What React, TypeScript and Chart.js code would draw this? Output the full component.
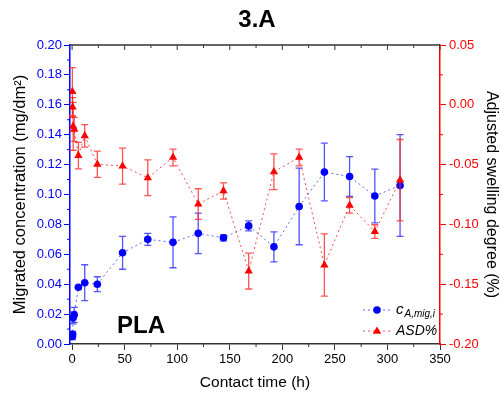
import React, { useEffect, useRef } from "react";
import { Chart, registerables } from "chart.js";

Chart.register(...registerables);

const times = [0.25, 0.5, 1, 2, 6, 12, 24, 48, 72, 96, 120, 144, 168, 192, 216, 240, 264, 288, 312];
const conc = [0.005, 0.0065, 0.0175, 0.0195, 0.038, 0.041, 0.040, 0.061, 0.070, 0.068, 0.074, 0.071, 0.079, 0.065, 0.092, 0.115, 0.112, 0.099, 0.106];
const concErr = [0.002, 0.002, 0.004, 0.005, 0.001, 0.012, 0.005, 0.011, 0.004, 0.017, 0.0135, 0.002, 0.0033, 0.010, 0.0256, 0.0193, 0.0133, 0.018, 0.034];
const asd = [0.011, -0.002, -0.018, -0.0205, -0.0425, -0.026, -0.0497, -0.0513, -0.061, -0.044, -0.083, -0.072, -0.139, -0.056, -0.044, -0.134, -0.084, -0.106, -0.063];
const asdErr = [0.02, 0.008, 0.02, 0.01, 0.011, 0.0094, 0.011, 0.015, 0.015, 0.007, 0.0128, 0.0068, 0.015, 0.015, 0.007, 0.026, 0.0065, 0.0057, 0.034];

const xTicks = [0, 50, 100, 150, 200, 250, 300, 350];
const xMinor = [25, 75, 125, 175, 225, 275, 325];
const yLeftTicks = [0, 0.02, 0.04, 0.06, 0.08, 0.1, 0.12, 0.14, 0.16, 0.18, 0.2];
const yLeftMinor = [0.01, 0.03, 0.05, 0.07, 0.09, 0.11, 0.13, 0.15, 0.17, 0.19];
const yRightTicks = [-0.2, -0.15, -0.1, -0.05, 0, 0.05];
const yRightMinor = [-0.175, -0.125, -0.075, -0.025, 0.025];

const FONT = '"Liberation Sans", Arial, sans-serif';
const BLUE = "#0000ff";
const RED = "#ff0000";
const AXIS = "#333333";

const errorBars = {
  id: "errorBars",
  beforeDatasetDraw(chart: any, args: any) {
    const ds = chart.data.datasets[args.index];
    const errs: number[] = ds.errors;
    if (!errs) return;
    const yScale = chart.scales[ds.yAxisID];
    const ctx = chart.ctx;
    ctx.save();
    ctx.strokeStyle = ds.errColor;
    ctx.lineWidth = 1.3;
    args.meta.data.forEach((pt: any, i: number) => {
      const v = ds.data[i].y;
      const e = errs[i];
      const yt = yScale.getPixelForValue(v + e);
      const yb = yScale.getPixelForValue(v - e);
      const x = pt.x;
      ctx.beginPath();
      ctx.moveTo(x, yt);
      ctx.lineTo(x, yb);
      ctx.moveTo(x - 3.5, yt);
      ctx.lineTo(x + 3.5, yt);
      ctx.moveTo(x - 3.5, yb);
      ctx.lineTo(x + 3.5, yb);
      ctx.stroke();
    });
    ctx.restore();
  },
};

const decor = {
  id: "decor",
  afterDraw(chart: any) {
    const ctx = chart.ctx;
    const { left, right, top, bottom } = chart.chartArea;
    const xs = chart.scales.x;
    const yl = chart.scales.y;
    const yr = chart.scales.y2;
    ctx.save();
    // top border
    ctx.strokeStyle = AXIS;
    ctx.lineWidth = 1.5;
    ctx.beginPath();
    ctx.moveTo(left, top);
    ctx.lineTo(right, top);
    ctx.stroke();
    ctx.lineWidth = 1;
    ctx.beginPath();
    xTicks.forEach((v) => {
      const x = xs.getPixelForValue(v);
      ctx.moveTo(x, top);
      ctx.lineTo(x, top + 5);
    });
    xMinor.forEach((v) => {
      const x = xs.getPixelForValue(v);
      ctx.moveTo(x, top);
      ctx.lineTo(x, top + 3);
      ctx.moveTo(x, bottom);
      ctx.lineTo(x, bottom + 3);
    });
    ctx.stroke();
    ctx.strokeStyle = BLUE;
    ctx.beginPath();
    yLeftMinor.forEach((v) => {
      const y = yl.getPixelForValue(v);
      ctx.moveTo(left, y);
      ctx.lineTo(left - 3, y);
    });
    ctx.stroke();
    ctx.strokeStyle = RED;
    ctx.beginPath();
    yRightMinor.forEach((v) => {
      const y = yr.getPixelForValue(v);
      ctx.moveTo(right, y);
      ctx.lineTo(right + 3, y);
    });
    ctx.stroke();

    // title
    ctx.fillStyle = "#000";
    ctx.font = `bold 24px ${FONT}`;
    ctx.textAlign = "center";
    ctx.textBaseline = "alphabetic";
    ctx.fillText("3.A", 257, 27);

    // PLA label
    ctx.font = `bold 24px ${FONT}`;
    ctx.textAlign = "left";
    ctx.fillText("PLA", 117, 333);

    // legend
    const lx0 = 363, lx1 = 391, mx = 377;
    const ly1 = 310, ly2 = 331;
    ctx.lineWidth = 1;
    ctx.setLineDash([2, 3]);
    ctx.strokeStyle = "rgba(0,0,255,0.6)";
    ctx.beginPath();
    ctx.moveTo(lx0, ly1);
    ctx.lineTo(lx1, ly1);
    ctx.stroke();
    ctx.strokeStyle = "rgba(255,0,0,0.7)";
    ctx.beginPath();
    ctx.moveTo(lx0, ly2);
    ctx.lineTo(lx1, ly2);
    ctx.stroke();
    ctx.setLineDash([]);
    ctx.fillStyle = BLUE;
    ctx.beginPath();
    ctx.arc(mx, ly1, 3.8, 0, Math.PI * 2);
    ctx.fill();
    ctx.fillStyle = RED;
    ctx.beginPath();
    const r = 4.5;
    ctx.moveTo(mx, ly2 - r);
    ctx.lineTo(mx + r * 0.95, ly2 + r * 0.6);
    ctx.lineTo(mx - r * 0.95, ly2 + r * 0.6);
    ctx.closePath();
    ctx.fill();

    ctx.fillStyle = "#000";
    ctx.textBaseline = "middle";
    ctx.font = `italic 15px ${FONT}`;
    ctx.fillText("c", 396, ly1);
    const cw = ctx.measureText("c").width;
    ctx.font = `italic 10px ${FONT}`;
    ctx.fillText("A,mig,i", 396 + cw + 1, ly1 + 4);
    ctx.font = `italic 14px ${FONT}`;
    ctx.fillText("ASD%", 396, ly2);
    ctx.restore();
  },
};

export default function App() {
  const ref = useRef<HTMLCanvasElement>(null);
  useEffect(() => {
    document.body.style.margin = "0";
    const blueData = times.map((t, i) => ({ x: t, y: conc[i] }));
    const redData = times.map((t, i) => ({ x: t, y: asd[i] }));
    const chart = new Chart(ref.current as HTMLCanvasElement, {
      type: "line",
      data: {
        datasets: [
          {
            label: "cA,mig,i",
            data: blueData,
            yAxisID: "y",
            borderColor: "rgba(0,0,255,0.6)",
            borderWidth: 1,
            borderDash: [2, 3],
            pointStyle: "circle",
            pointRadius: 3.8,
            pointBackgroundColor: BLUE,
            pointBorderColor: BLUE,
            pointBorderWidth: 0,
            order: 2,
            errors: concErr,
            errColor: "rgba(40,40,255,0.8)",
          } as any,
          {
            label: "ASD%",
            data: redData,
            yAxisID: "y2",
            borderColor: "rgba(255,0,0,0.7)",
            borderWidth: 1,
            borderDash: [2, 3],
            pointStyle: "triangle",
            pointRadius: 4.8,
            pointBackgroundColor: RED,
            pointBorderColor: RED,
            pointBorderWidth: 0,
            order: 1,
            errors: asdErr,
            errColor: "rgba(255,40,40,0.8)",
          } as any,
        ],
      },
      options: {
        responsive: false,
        animation: false,
        layout: { padding: { top: 45, left: 0, right: 0, bottom: 0 } },
        plugins: { legend: { display: false }, tooltip: { enabled: false }, title: { display: false } },
        scales: {
          x: {
            type: "linear",
            min: -2,
            max: 350,
            afterFit: (s: any) => { s.height = 57; },
            afterBuildTicks: (s: any) => { s.ticks = xTicks.map((v) => ({ value: v })); },
            grid: { drawOnChartArea: false, drawTicks: true, tickLength: 6, color: AXIS, tickWidth: 1 },
            border: { display: true, color: AXIS, width: 1.5 },
            ticks: { color: "#000", font: { family: FONT, size: 13 }, padding: 2, maxRotation: 0 },
            title: { display: true, text: "Contact time (h)", color: "#000", font: { family: FONT, size: 15.5 }, padding: { bottom: 9, top: 0 } },
          },
          y: {
            type: "linear",
            position: "left",
            min: 0,
            max: 0.2,
            afterFit: (s: any) => { s.width = 70; },
            afterBuildTicks: (s: any) => { s.ticks = yLeftTicks.map((v) => ({ value: v })); },
            grid: { drawOnChartArea: false, drawTicks: true, tickLength: 6, color: BLUE, tickWidth: 1 },
            border: { display: true, color: BLUE, width: 1.5 },
            ticks: { color: BLUE, font: { family: FONT, size: 13 }, padding: 2, callback: (v: any) => Number(v).toFixed(2) },
            title: { display: true, text: "Migrated concentration (mg/dm²)", color: "#000", font: { family: FONT, size: 16.5 }, padding: { top: 11, bottom: 0 } },
          },
          y2: {
            type: "linear",
            position: "right",
            min: -0.2,
            max: 0.05,
            afterFit: (s: any) => { s.width = 61; },
            afterBuildTicks: (s: any) => { s.ticks = yRightTicks.map((v) => ({ value: v })); },
            grid: { drawOnChartArea: false, drawTicks: true, tickLength: 6, color: RED, tickWidth: 1 },
            border: { display: true, color: RED, width: 1.5 },
            ticks: { color: RED, font: { family: FONT, size: 13 }, padding: 3, callback: (v: any) => Number(v).toFixed(2) },
            title: { display: true, text: "Adjusted swelling degree (%)", color: "#000", font: { family: FONT, size: 16 }, padding: { top: 0, bottom: 0 } },
          },
        },
      } as any,
      plugins: [errorBars, decor],
    });
    return () => chart.destroy();
  }, []);
  return (
    <div style={{ width: 501, height: 401, background: "#fff" }}>
      <canvas ref={ref} width={501} height={401} />
    </div>
  );
}
